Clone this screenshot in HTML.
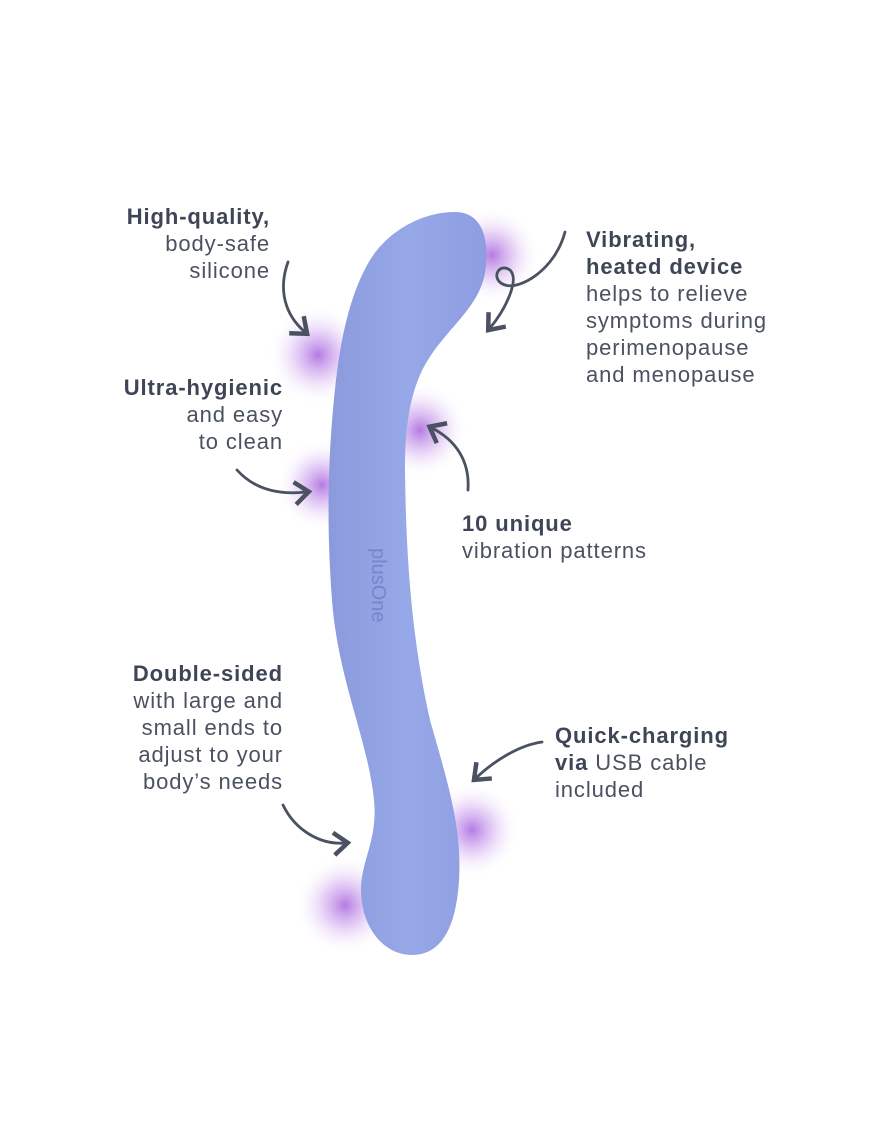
<!DOCTYPE html>
<html><head><meta charset="utf-8"><style>
html,body{margin:0;padding:0;background:#fff;}
body{width:870px;height:1131px;position:relative;overflow:hidden;font-family:"Liberation Sans",sans-serif;color:#4a5160;}
.t{position:absolute;font-size:22px;line-height:27px;letter-spacing:0.9px;}
.r{text-align:right;}
b{color:#3e4556;}
</style></head><body>
<svg width="870" height="1131" style="position:absolute;left:0;top:0">
<defs>
<radialGradient id="g"><stop offset="0" stop-color="#9b4fd8" stop-opacity="0.75"/><stop offset="0.45" stop-color="#b77ae6" stop-opacity="0.35"/><stop offset="1" stop-color="#fff" stop-opacity="0"/></radialGradient>
<linearGradient id="d" x1="0" x2="1"><stop offset="0" stop-color="#8a9adc"/><stop offset="0.5" stop-color="#97a8e8"/><stop offset="1" stop-color="#8d9de0"/></linearGradient>
<marker id="a" markerWidth="10" markerHeight="10" refX="5" refY="5" orient="auto"><path d="M1,1 L6,5 L1,9" fill="none" stroke="#4a5160" stroke-width="1.6"/></marker>
</defs>
<circle cx="318" cy="355" r="50" fill="url(#g)"/>
<circle cx="492" cy="255" r="48" fill="url(#g)"/>
<circle cx="322" cy="485" r="46" fill="url(#g)"/>
<circle cx="420" cy="430" r="48" fill="url(#g)"/>
<circle cx="472" cy="830" r="48" fill="url(#g)"/>
<circle cx="345" cy="905" r="50" fill="url(#g)"/>
<path d="M455,212 C480,212 489,235 486,265 C483,310 440,330 420,375 C407,405 405,440 405,470 C406,560 412,640 430,720 C450,790 462,830 459,880 C456,930 440,955 412,955 C382,955 361,925 361,890 C361,860 378,840 374,800 C368,740 338,680 332,600 C326,520 328,450 336,380 C342,330 352,290 370,260 C390,228 425,212 455,212 Z" fill="url(#d)"/>
<text x="0" y="0" transform="translate(372,548) rotate(90)" font-family="Liberation Sans" font-size="20" fill="#7785c8">plusOne</text>
<g fill="none" stroke="#4a5160" stroke-width="2.8" stroke-linecap="round">
<path d="M288,262 C278,290 285,315 305,332" marker-end="url(#a)"/>
<path d="M565,232 C555,270 520,290 505,285 C490,280 498,262 510,270 C520,280 505,310 490,328" marker-end="url(#a)"/>
<path d="M237,470 C255,490 280,495 306,492" marker-end="url(#a)"/>
<path d="M468,490 C470,460 455,440 432,428" marker-end="url(#a)"/>
<path d="M542,742 C520,745 495,760 476,778" marker-end="url(#a)"/>
<path d="M283,805 C295,830 320,845 345,843" marker-end="url(#a)"/>
</g>
</svg>
<div class="t r" style="right:600px;top:203px"><b>High-quality,</b><br>body-safe<br>silicone</div>
<div class="t" style="left:586px;top:226px"><b>Vibrating,<br>heated device</b><br>helps to relieve<br>symptoms during<br>perimenopause<br>and menopause</div>
<div class="t r" style="right:587px;top:374px"><b>Ultra-hygienic</b><br>and easy<br>to clean</div>
<div class="t" style="left:462px;top:510px"><b>10 unique</b><br>vibration patterns</div>
<div class="t r" style="right:587px;top:660px"><b>Double-sided</b><br>with large and<br>small ends to<br>adjust to your<br>body’s needs</div>
<div class="t" style="left:555px;top:722px"><b>Quick-charging<br>via</b> USB cable<br>included</div>
</body></html>
